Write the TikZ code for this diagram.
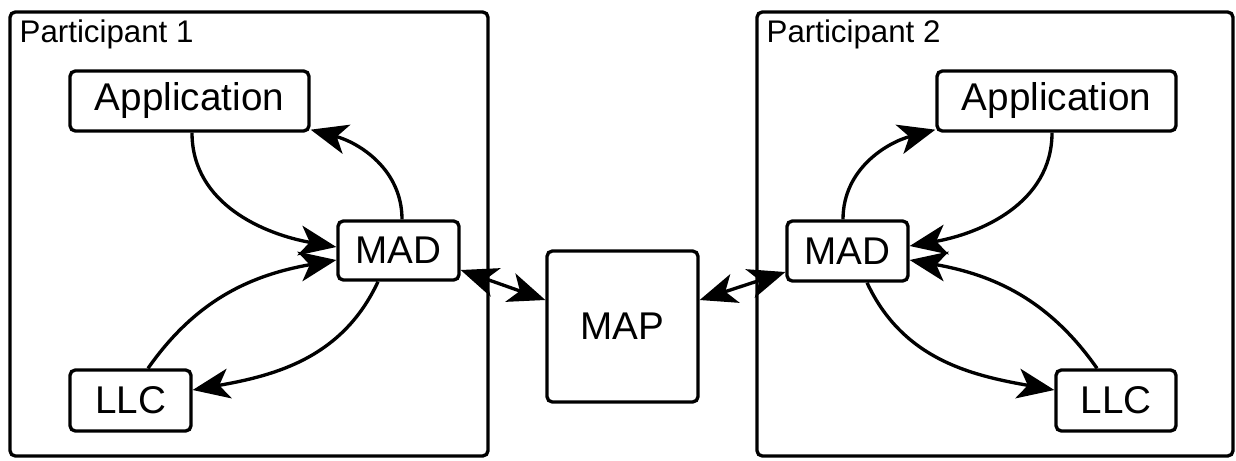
\documentclass[tikz,border=0pt]{standalone}
\usepackage{fontspec}
\setmainfont{Liberation Sans}
\usetikzlibrary{arrows.meta,calc}

\begin{document}
\begin{tikzpicture}[x=0.02cm, y=0.02cm, line width=1.9pt,
    >={Stealth[length=0.74cm, width=0.6cm, inset=0.2cm]},
    block/.style={rectangle, draw, rounded corners=3pt, inner sep=0pt, font=\fontsize{22}{26}\selectfont},
    frame/.style={draw, rounded corners=3pt},
    label/.style={anchor=base west, inner sep=0pt, font=\fontsize{17.8}{20}\selectfont}]
    \useasboundingbox (0,0) rectangle (1236,-460);

    % the two participants
    \draw[frame] (10,-12) rectangle (488,-456);
    \draw[frame] (757,-12) rectangle (1233,-456);
    \node[label] (p1) at (18,-42) {Participant 1};
    \node[label] (p2) at (765,-42) {Participant 2};

    \node[block, minimum width=4.78cm, minimum height=1.2cm] (app1) at (189.5,-101) {Application};
    \node[block, minimum width=2.42cm, minimum height=1.18cm] (mad1) at (398.5,-250.5) {MAD};
    \node[block, minimum width=2.42cm, minimum height=1.22cm] (llc1) at (130.5,-400.5) {LLC};
    \node[block, minimum width=3.02cm, minimum height=3.02cm] (map) at (622.5,-326.5) {MAP};
    \node[block, minimum width=2.42cm, minimum height=1.2cm] (mad2) at (847.5,-251) {MAD};
    \node[block, minimum width=4.78cm, minimum height=1.2cm] (app2) at (1056.5,-101) {Application};
    \node[block, minimum width=2.40cm, minimum height=1.22cm] (llc2) at (1116,-400.5) {LLC};

    % participant 1
    \draw[->] ($(app1.south)+(2.5,0)$) to[out=-90, in=170] ($(mad1.west)+(0,3.5)$);
    \draw[->] ($(mad1.north)+(3.5,0)$) to[out=90, in=-15] ($(app1.south east)+(0,3)$);
    \draw[->] ($(llc1.north)+(17.5,0)$) to[out=55, in=190] ($(mad1.west)+(0,-9.5)$);
    \draw[->] ($(mad1.south)+(-20.5,0)$) to[out=-115, in=10] ($(llc1.east)+(0,10.5)$);
    \draw[<->] ($(mad1.east)+(0,-19.5)$) -- ($(map.west)+(0,26.5)$);

    % participant 2
    \draw[<->] ($(map.east)+(0,26.5)$) -- ($(mad2.west)+(0,-21)$);
    \draw[->] ($(mad2.north)+(-4.5,0)$) to[out=90, in=195] ($(app2.south west)+(0,3)$);
    \draw[->] ($(app2.south)+(-4.5,0)$) to[out=-90, in=10] ($(mad2.east)+(0,5)$);
    \draw[->] ($(llc2.north)+(-19,0)$) to[out=125, in=-10] ($(mad2.east)+(0,-9)$);
    \draw[->] ($(mad2.south)+(19.5,0)$) to[out=-65, in=170] ($(llc2.west)+(0,10.5)$);
\end{tikzpicture}
\end{document}
